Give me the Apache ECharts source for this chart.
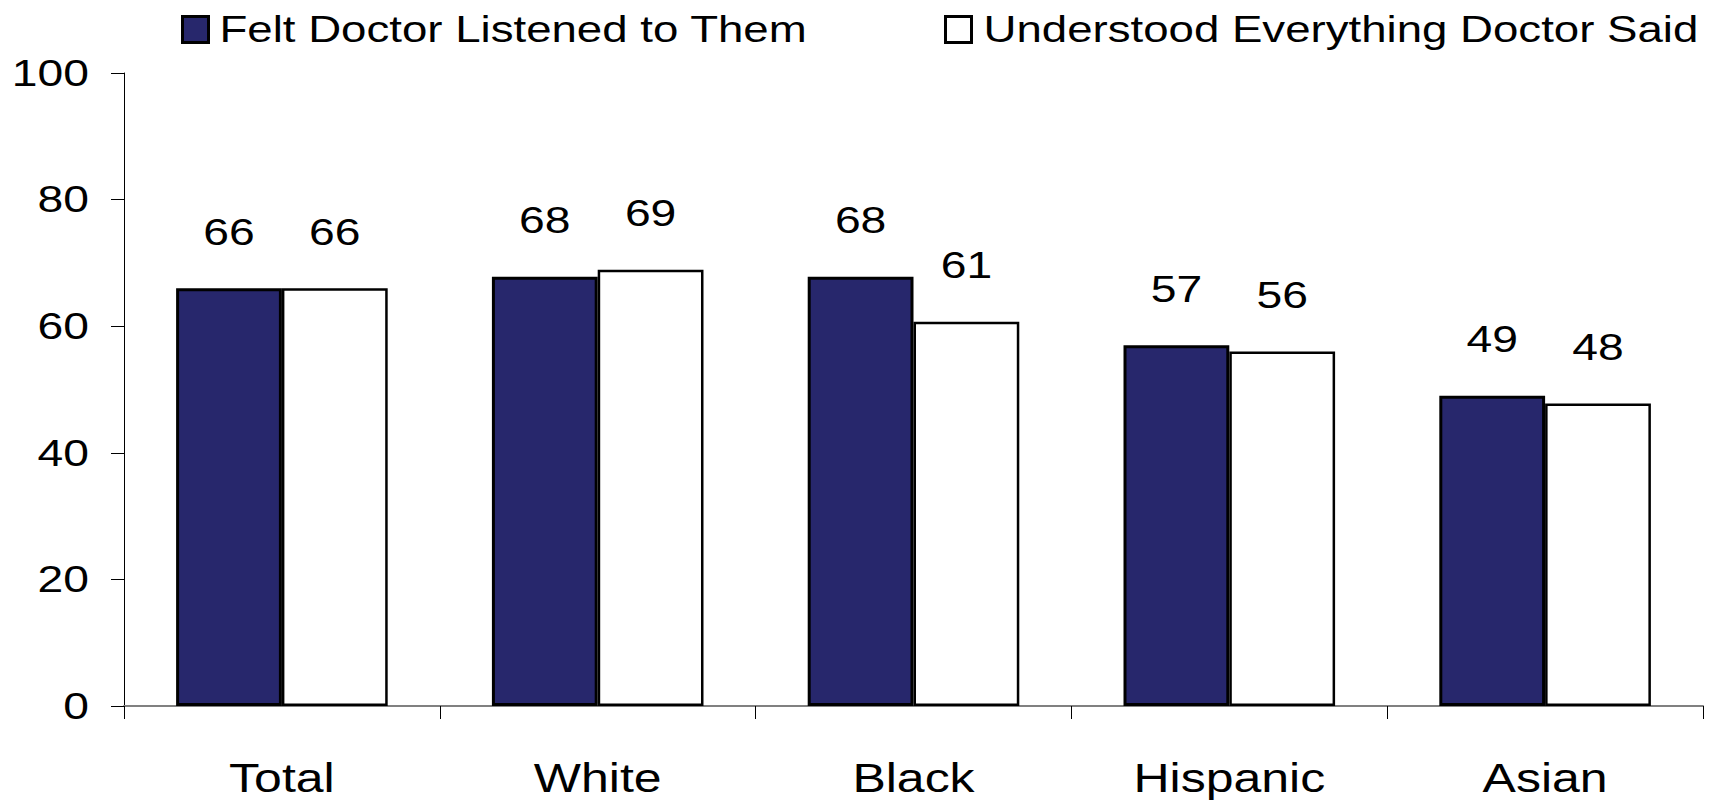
<!DOCTYPE html>
<html>
<head>
<meta charset="utf-8">
<script src="https://cdn.jsdelivr.net/npm/echarts@6/dist/echarts.min.js"></script>
<style>
  html, body { margin: 0; padding: 0; background: #fff; }
  #chart { width: 1717px; height: 802px; }
</style>
</head>
<body>
<div id="chart"></div>
<script>
const categories = ['Total', 'White', 'Black', 'Hispanic', 'Asian'];
const seriesNames = ['Felt Doctor Listened to Them', 'Understood Everything Doctor Said'];
const feltListened = [66, 67.8, 67.8, 57, 49];
const understoodAll = [66, 68.9, 60.7, 56, 47.8];
const yTicks = [0, 20, 40, 60, 80, 100];

const FONT = '"Liberation Sans", Arial, sans-serif';
const NAVY = '#27276C';
const STRETCH = 1.25; // reference text is drawn horizontally widened

const chart = echarts.init(document.getElementById('chart'), null, { renderer: 'svg' });

const labelCfg = {
  show: true,
  position: 'top',
  distance: 38,
  color: '#000',
  fontFamily: FONT,
  fontSize: 37,
  formatter: p => Math.round(p.value)
};

const legendBase = {
  top: 11,
  padding: 0,
  icon: 'rect',
  itemWidth: 26,
  itemHeight: 26,
  itemStyle: { borderColor: '#000', borderWidth: 3 },
  textStyle: { fontFamily: FONT, fontSize: 36.5, color: '#000' }
};

chart.setOption({
  animation: false,
  backgroundColor: '#fff',
  legend: [
    Object.assign({}, legendBase, { left: 181, data: [seriesNames[0]],
      textStyle: Object.assign({}, legendBase.textStyle, { padding: [0, 0, 0, 6] }) }),
    Object.assign({}, legendBase, { left: 944, data: [seriesNames[1]],
      textStyle: Object.assign({}, legendBase.textStyle, { padding: [0, 0, 0, 7] }) })
  ],
  grid: { left: 124, right: 14, top: 73, bottom: 96, containLabel: false },
  xAxis: {
    type: 'category',
    data: categories,
    axisLine: { lineStyle: { color: '#808080', width: 2 } },
    axisTick: { show: true, length: 13, lineStyle: { color: '#000', width: 1 } },
    axisLabel: { margin: 57, color: '#000', fontFamily: FONT, fontSize: 40, lineHeight: 30 }
  },
  yAxis: {
    type: 'value',
    min: yTicks[0],
    max: yTicks[yTicks.length - 1],
    interval: yTicks[1] - yTicks[0],
    splitLine: { show: false },
    axisLine: { show: true, lineStyle: { color: '#000', width: 1 } },
    axisTick: { show: true, length: 13, lineStyle: { color: '#000', width: 1 } },
    axisLabel: { margin: 35, color: '#000', fontFamily: FONT, fontSize: 37 }
  },
  series: [
    {
      name: seriesNames[0],
      type: 'bar',
      data: feltListened,
      barWidth: '33.5%',
      barGap: '0%',
      itemStyle: { color: NAVY, borderColor: '#000', borderWidth: 3 },
      label: labelCfg
    },
    {
      name: seriesNames[1],
      type: 'bar',
      data: understoodAll,
      barWidth: '33.5%',
      barGap: '0%',
      itemStyle: { color: '#fff', borderColor: '#000', borderWidth: 2.5 },
      label: labelCfg
    }
  ]
});

// Widen each text horizontally around its own anchor point.
const applied = new WeakMap();
function stretchTexts() {
  document.querySelectorAll('#chart svg text').forEach(t => {
    const cur = t.getAttribute('transform') || '';
    if (applied.get(t) === cur) return;
    const ax = parseFloat(t.getAttribute('x') || '0') || 0;
    const next = (cur ? cur + ' ' : '') +
      'translate(' + ax + ' 0) scale(' + STRETCH + ' 1) translate(' + (-ax) + ' 0)';
    t.setAttribute('transform', next);
    applied.set(t, next);
  });
}
chart.on('finished', stretchTexts);
stretchTexts();
setTimeout(stretchTexts, 50);
requestAnimationFrame(stretchTexts);
</script>
</body>
</html>
